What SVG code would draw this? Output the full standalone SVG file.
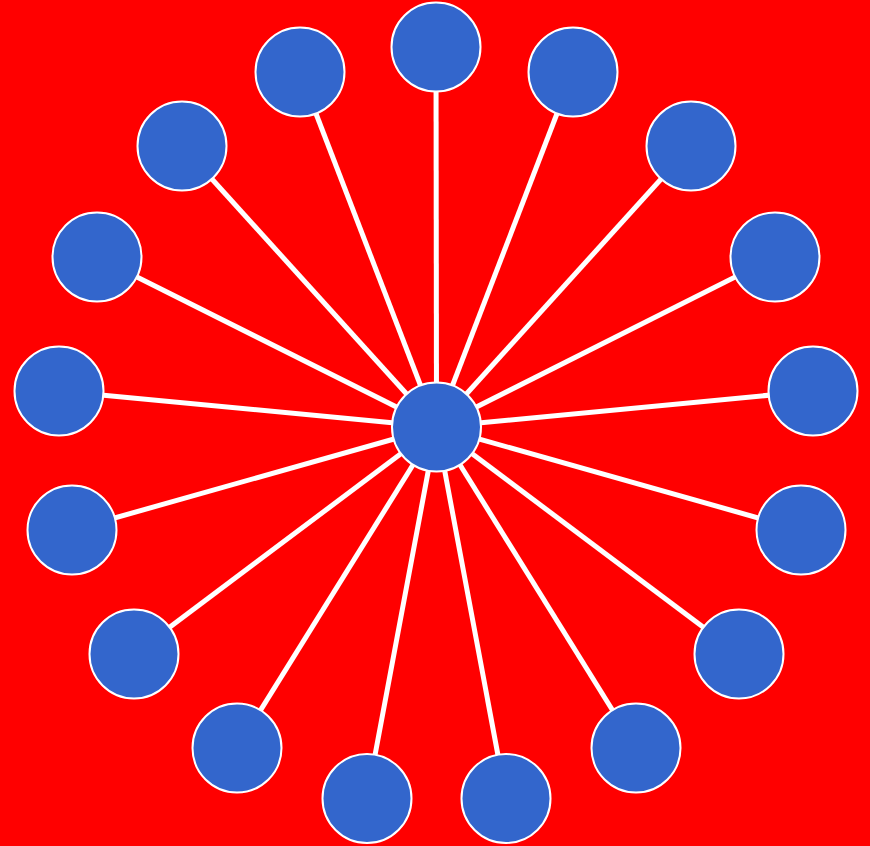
<svg xmlns="http://www.w3.org/2000/svg" width="870" height="846" viewBox="0 0 870 846">
<style>
.e{stroke:#fff;stroke-width:5;fill:none}
.n{fill:#3366cc;stroke:#fff;stroke-width:2}
</style>
<rect width="870" height="846" fill="#ff0000"/>
<g id="edges">
<line class="e" x1="436.5" y1="427" x2="436" y2="47"/>
<line class="e" x1="436.5" y1="427" x2="573" y2="72"/>
<line class="e" x1="436.5" y1="427" x2="691" y2="146"/>
<line class="e" x1="436.5" y1="427" x2="775" y2="257"/>
<line class="e" x1="436.5" y1="427" x2="813" y2="391"/>
<line class="e" x1="436.5" y1="427" x2="801" y2="530"/>
<line class="e" x1="436.5" y1="427" x2="739" y2="654"/>
<line class="e" x1="436.5" y1="427" x2="636" y2="748"/>
<line class="e" x1="436.5" y1="427" x2="506" y2="798"/>
<line class="e" x1="436.5" y1="427" x2="367" y2="798"/>
<line class="e" x1="436.5" y1="427" x2="237" y2="748"/>
<line class="e" x1="436.5" y1="427" x2="134" y2="654"/>
<line class="e" x1="436.5" y1="427" x2="72" y2="530"/>
<line class="e" x1="436.5" y1="427" x2="59" y2="391"/>
<line class="e" x1="436.5" y1="427" x2="97" y2="257"/>
<line class="e" x1="436.5" y1="427" x2="182" y2="146"/>
<line class="e" x1="436.5" y1="427" x2="300" y2="72"/>
</g>
<g id="center"><circle class="n" cx="436.5" cy="427" r="44.5"/></g>
<g id="n1"><circle class="n" cx="436" cy="47" r="44.5"/></g>
<g id="n2"><circle class="n" cx="573" cy="72" r="44.5"/></g>
<g id="n3"><circle class="n" cx="691" cy="146" r="44.5"/></g>
<g id="n4"><circle class="n" cx="775" cy="257" r="44.5"/></g>
<g id="n5"><circle class="n" cx="813" cy="391" r="44.5"/></g>
<g id="n6"><circle class="n" cx="801" cy="530" r="44.5"/></g>
<g id="n7"><circle class="n" cx="739" cy="654" r="44.5"/></g>
<g id="n8"><circle class="n" cx="636" cy="748" r="44.5"/></g>
<g id="n9"><circle class="n" cx="506" cy="798.5" r="44.5"/></g>
<g id="n10"><circle class="n" cx="367" cy="798.5" r="44.5"/></g>
<g id="n11"><circle class="n" cx="237" cy="748" r="44.5"/></g>
<g id="n12"><circle class="n" cx="134" cy="654" r="44.5"/></g>
<g id="n13"><circle class="n" cx="72" cy="530" r="44.5"/></g>
<g id="n14"><circle class="n" cx="59" cy="391" r="44.5"/></g>
<g id="n15"><circle class="n" cx="97" cy="257" r="44.5"/></g>
<g id="n16"><circle class="n" cx="182" cy="146" r="44.5"/></g>
<g id="n17"><circle class="n" cx="300" cy="72" r="44.5"/></g>
</svg>
